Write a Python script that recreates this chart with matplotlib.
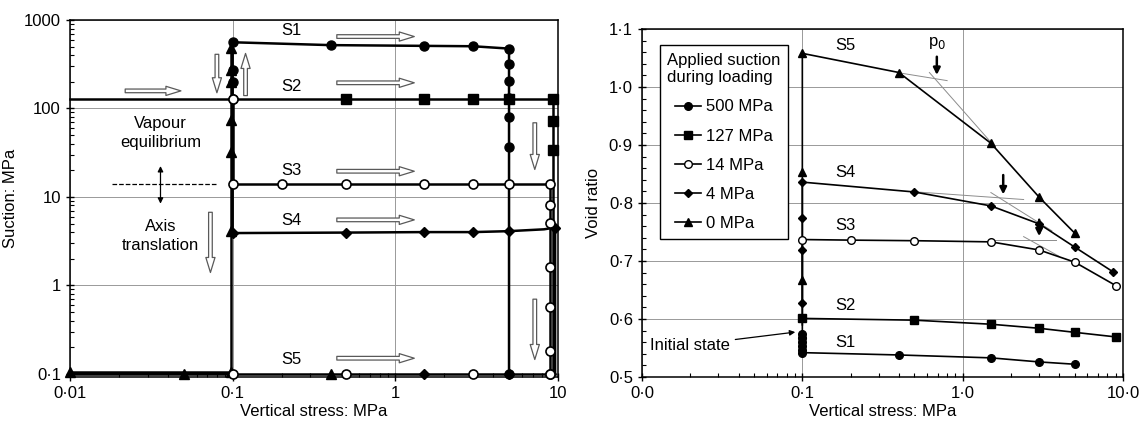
import numpy as np
import matplotlib
matplotlib.use('Agg')
import matplotlib.pyplot as plt
from matplotlib.ticker import FixedLocator, LogLocator, MultipleLocator, NullFormatter

plt.rcParams['font.family'] = ['Liberation Sans', 'DejaVu Sans']
plt.rcParams['font.size'] = 12

# ---------------- left panel: suction paths (stress MPa, suction MPa) ----------------
s1_stress = [0.1, 0.1, 0.1, 0.1, 0.4, 1.5, 3, 5, 5, 5, 5, 5, 5, 5, 5]
s1_suction = [127, 200, 273, 560, 520, 510, 505, 475, 320, 205, 130, 81, 37, 4.5, 0.1]
s1_marks = [0, 1, 2, 3, 4, 5, 6, 7, 8, 9, 10, 11, 12, 14]

s2_stress = [0.01, 0.5, 1.5, 3, 5, 9.3, 9.3, 9.3, 9.3]
s2_suction = [127, 127, 127, 127, 127, 127, 73, 34, 0.1]
s2_marks = [1, 2, 3, 4, 5, 6, 7]

s3_stress = [0.1, 0.1, 0.1, 0.2, 0.5, 1.5, 3, 5, 8.9, 8.9, 8.9, 8.9, 8.9, 8.9, 8.9]
s3_suction = [127, 14, 14, 14, 14, 14, 14, 14, 14, 8.2, 5.1, 1.6, 0.57, 0.18, 0.1]
s3_marks = [0, 1, 3, 4, 5, 6, 7, 8, 9, 10, 11, 12, 13, 14]

s4_stress = [0.1, 0.1, 0.5, 1.5, 3, 5, 8.2, 9.6, 9.6]
s4_suction = [127, 3.9, 3.95, 4.0, 4.0, 4.1, 4.3, 4.5, 0.1]
s4_marks = [1, 2, 3, 4, 5, 7]

s5_stress = [0.097, 0.097, 0.097, 0.097, 0.097, 0.097, 0.097, 0.097, 0.05, 0.01, 0.01, 0.05, 0.4, 9.6]
s5_suction = [480, 270, 200, 127, 75, 32, 4.1, 0.105, 0.105, 0.105, 0.1, 0.1, 0.1, 0.1]
s5_marks = [0, 1, 2, 4, 5, 6, 7, 9, 11, 12]

bottom_open_stress = [0.1, 0.5, 3, 8.9]
bottom_diamond_stress = [1.5, 5]
bottom_suction = 0.1

left_labels = ['S1', 'S2', 'S3', 'S4', 'S5']
left_label_y = [770, 175, 20, 5.4, 0.145]
left_label_x = 0.2

# ---------------- right panel: void ratio vs vertical stress ----------------
r1_stress = [0.1, 0.1, 0.1, 0.1, 0.1, 0.1, 0.4, 1.5, 3, 5]
r1_void = [0.575, 0.568, 0.56, 0.553, 0.547, 0.542, 0.538, 0.533, 0.526, 0.522]

r2_stress = [0.1, 0.1, 0.5, 1.5, 3, 5, 9.1]
r2_void = [0.59, 0.601, 0.598, 0.591, 0.584, 0.577, 0.569]

r3_stress = [0.1, 0.1, 0.2, 0.5, 1.5, 3, 5, 9.1]
r3_void = [0.6, 0.737, 0.736, 0.735, 0.733, 0.719, 0.698, 0.657]

r4_stress = [0.1, 0.1, 0.1, 0.1, 0.5, 1.5, 3, 5, 8.7]
r4_void = [0.627, 0.719, 0.774, 0.836, 0.819, 0.795, 0.764, 0.724, 0.681]

r5_stress = [0.1, 0.1, 0.1, 0.1, 0.4, 1.5, 3, 5]
r5_void = [0.575, 0.668, 0.853, 1.058, 1.025, 0.903, 0.81, 0.748]

legend_names = ['500 MPa', '127 MPa', '14 MPa', '4 MPa', '0 MPa']

right_label_x = 0.16
right_label_y = [0.56, 0.624, 0.762, 0.852, 1.072]

# p0 construction (tangent lines and arrows)
p0_x = [0.69, 1.79, 3.0]
p0_top = [1.057, 0.853, 0.776]
p0_bot = [1.016, 0.810, 0.738]
tang_x = [[0.41, 0.8], [0.62, 1.52], [0.52, 2.4], [1.5, 3.6], [1.5, 3.8], [2.4, 4.0]]
tang_y = [[1.024, 1.011], [1.025, 0.903], [0.819, 0.806], [0.818, 0.752], [0.737, 0.737], [0.742, 0.708]]

W, H = 1141, 423
fig = plt.figure(figsize=(W / 100, H / 100), dpi=100)
axL = fig.add_axes([70 / W, 1 - 377 / H, (558 - 70) / W, (377 - 20) / H])
axR = fig.add_axes([642 / W, 1 - 377 / H, (1123 - 642) / W, (377 - 29) / H])

lw = 1.8
ms = 6.5
axL.plot(s1_stress, s1_suction, '-', color='black', lw=lw, marker='o', ms=ms, markevery=s1_marks, zorder=3, clip_on=False)
axL.plot(s2_stress, s2_suction, '-', color='black', lw=lw, marker='s', ms=ms, markevery=s2_marks, zorder=3, clip_on=False)
axL.plot(s4_stress, s4_suction, '-', color='black', lw=lw, marker='D', ms=5, markevery=s4_marks, zorder=3, clip_on=False)
axL.plot(s5_stress, s5_suction, '-', color='black', lw=lw, marker='^', ms=ms, markevery=s5_marks, zorder=3, clip_on=False)
axL.plot(s3_stress, s3_suction, '-', color='black', lw=lw, marker='o', ms=ms, mfc='white', mec='black',
         mew=1.2, markevery=s3_marks, zorder=4, clip_on=False)
axL.plot(bottom_diamond_stress, [bottom_suction] * len(bottom_diamond_stress), 'D', color='black', ms=5,
         zorder=4, clip_on=False)
axL.plot(bottom_open_stress, [bottom_suction] * len(bottom_open_stress), 'o', mfc='white', mec='black',
         mew=1.2, ms=ms, zorder=5, clip_on=False)

axL.set_xscale('log')
axL.set_yscale('log')
axL.set_xlim(0.01, 10)
axL.set_ylim(0.092, 1000)


def hollow(ax, start, end):
    ax.annotate('', xy=end, xytext=start,
                arrowprops=dict(arrowstyle='simple,head_length=0.9,head_width=0.55,tail_width=0.22',
                                fc='white', ec='0.35', lw=0.9), zorder=6)


for yy in [650, 195, 19.5, 5.5, 0.15]:
    hollow(axL, (0.42, yy), (1.36, yy))
hollow(axL, (0.021, 158), (0.05, 158))
hollow(axL, (0.08, 440), (0.08, 140))
hollow(axL, (0.12, 130), (0.12, 450))
hollow(axL, (7.2, 74), (7.2, 19))
hollow(axL, (7.2, 0.75), (7.2, 0.135))
hollow(axL, (0.073, 7.2), (0.073, 1.3))

axL.text(0.036, 53, 'Vapour\nequilibrium', ha='center', va='center', fontsize=12, linespacing=1.3)
axL.text(0.036, 3.6, 'Axis\ntranslation', ha='center', va='center', fontsize=12, linespacing=1.3)
axL.plot([0.018, 0.08], [13.9, 13.9], '--', color='black', lw=0.9)
axL.annotate('', xy=(0.036, 7.8), xytext=(0.036, 24),
             arrowprops=dict(arrowstyle='<|-|>', color='black', lw=0.9, mutation_scale=8))

for lab, yy in zip(left_labels, left_label_y):
    axL.text(left_label_x, yy, lab, ha='left', va='center', fontsize=12)

axL.xaxis.set_major_locator(FixedLocator([0.01, 0.1, 1, 10]))
axL.set_xticklabels(['0·01', '0·1', '1', '10'])
axL.yaxis.set_major_locator(FixedLocator([0.1, 1, 10, 100, 1000]))
axL.set_yticklabels(['0·1', '1', '10', '100', '1000'])
for a in (axL.xaxis, axL.yaxis):
    a.set_minor_locator(LogLocator(base=10, subs=np.arange(2, 10)))
    a.set_minor_formatter(NullFormatter())
axL.grid(True, which='major', color='0.6', lw=0.7)
axL.set_axisbelow(True)
axL.set_xlabel('Vertical stress: MPa', fontsize=12, labelpad=2)
axL.set_ylabel('Suction: MPa', fontsize=12, labelpad=4)

# ---------------- right panel drawing ----------------
rlw = 1.2
rms = 5.5
h1, = axR.plot(r1_stress, r1_void, '-', color='black', lw=rlw, marker='o', ms=rms, zorder=3)
h2, = axR.plot(r2_stress, r2_void, '-', color='black', lw=rlw, marker='s', ms=rms, markevery=[1, 2, 3, 4, 5, 6], zorder=3)
h4, = axR.plot(r4_stress, r4_void, '-', color='black', lw=rlw, marker='D', ms=4.5, zorder=3)
h5, = axR.plot(r5_stress, r5_void, '-', color='black', lw=rlw, marker='^', ms=rms, zorder=3)
h3, = axR.plot(r3_stress, r3_void, '-', color='black', lw=rlw, marker='o', ms=rms, mfc='white', mec='black',
               markevery=[1, 2, 3, 4, 5, 6, 7], zorder=4)

for tx, ty in zip(tang_x, tang_y):
    axR.plot(tx, ty, '-', color='0.55', lw=0.7, zorder=2)
for px, pt, pb in zip(p0_x, p0_top, p0_bot):
    axR.annotate('', xy=(px, pb), xytext=(px, pt),
                 arrowprops=dict(arrowstyle='-|>', color='black', lw=1.8, mutation_scale=10), zorder=5)
axR.text(p0_x[0], 1.076, 'p$_0$', ha='center', va='center', fontsize=12)

axR.annotate('Initial state', xy=(0.094, 0.578), xytext=(0.0112, 0.555), ha='left', va='center', fontsize=12,
             arrowprops=dict(arrowstyle='-|>', color='black', lw=0.9, mutation_scale=8))

for lab, yy in zip(left_labels, right_label_y):
    axR.text(right_label_x, yy, lab, ha='left', va='center', fontsize=12)

axR.set_xscale('log')
axR.set_xlim(0.01, 10)
axR.set_ylim(0.5, 1.1)
axR.xaxis.set_major_locator(FixedLocator([0.01, 0.1, 1, 10]))
axR.set_xticklabels(['0·0', '0·1', '1·0', '10·0'])
axR.xaxis.set_minor_locator(LogLocator(base=10, subs=np.arange(2, 10)))
axR.xaxis.set_minor_formatter(NullFormatter())
axR.yaxis.set_major_locator(FixedLocator([0.5, 0.6, 0.7, 0.8, 0.9, 1.0, 1.1]))
axR.set_yticklabels(['0·5', '0·6', '0·7', '0·8', '0·9', '1·0', '1·1'])
axR.yaxis.set_minor_locator(MultipleLocator(0.02))
axR.grid(True, which='major', color='0.6', lw=0.7)
axR.set_axisbelow(True)
axR.set_xlabel('Vertical stress: MPa', fontsize=12, labelpad=2)
axR.set_ylabel('Void ratio', fontsize=12, labelpad=6)

leg = axR.legend([h1, h2, h3, h4, h5], legend_names, title='Applied suction\nduring loading',
                 loc='upper left', bbox_to_anchor=(0.037, 0.953), borderaxespad=0, fontsize=12,
                 title_fontsize=12, fancybox=False, edgecolor='black', framealpha=1, handlelength=1.6,
                 handletextpad=0.3, borderpad=0.45, labelspacing=0.85)
leg.get_frame().set_linewidth(1.0)

for ax in (axL, axR):
    ax.tick_params(which='major', direction='inout', length=6, width=1, labelsize=12)
    ax.tick_params(which='minor', direction='in', length=3, width=0.8)
    for sp in ax.spines.values():
        sp.set_linewidth(1.1)

fig.savefig('out.png', dpi=100)
